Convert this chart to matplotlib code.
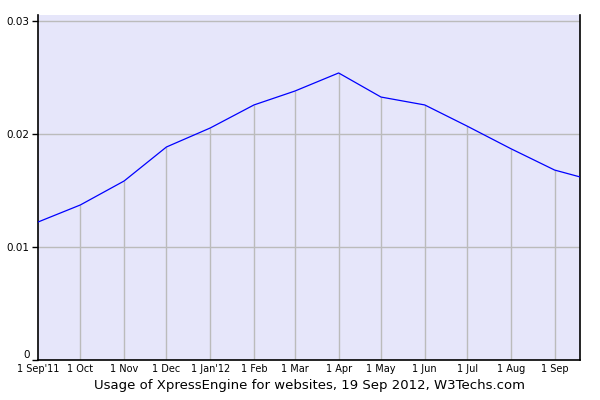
import numpy as np
import matplotlib
matplotlib.use("Agg")
import matplotlib.pyplot as plt
import matplotlib.dates as mdates
from datetime import date

dates = [date(2011, 9, 1), date(2011, 10, 1), date(2011, 11, 1), date(2011, 12, 1),
         date(2012, 1, 1), date(2012, 2, 1), date(2012, 3, 1), date(2012, 4, 1),
         date(2012, 5, 1), date(2012, 6, 1), date(2012, 7, 1), date(2012, 8, 1),
         date(2012, 9, 1), date(2012, 9, 19)]
usage = [0.01221, 0.01372, 0.01584, 0.01885, 0.02053, 0.02257, 0.0238, 0.0254,
         0.02327, 0.02257, 0.0207, 0.01870, 0.01681, 0.0162]
tick_labels = ["1 Sep'11", "1 Oct", "1 Nov", "1 Dec", "1 Jan'12", "1 Feb", "1 Mar",
               "1 Apr", "1 May", "1 Jun", "1 Jul", "1 Aug", "1 Sep"]
y_ticks = [0, 0.01, 0.02, 0.03]
y_labels = ["0", "0.01", "0.02", "0.03"]

x = mdates.date2num(dates)

fig = plt.figure(figsize=(6, 4), dpi=100)
ax = fig.add_axes([38 / 600, 40 / 400, 542 / 600, 345 / 400])
ax.set_facecolor('#E6E6FA')

ax.set_xlim(x[0], x[-1])
ax.set_ylim(0, 0.03053)

for yt in y_ticks[1:]:
    ax.axhline(yt, color='#BBBBBB', lw=1, zorder=1)
ax.vlines(x[1:-1], 0, usage[1:-1], color='#BBBBBB', lw=1, zorder=1)
ax.plot(x, usage, color='#0000FF', lw=0.9, zorder=3)

ax.set_xticks(x[:-1])
ax.set_xticklabels(tick_labels, fontsize=7)
ax.tick_params(axis='x', length=0, pad=3)
ax.set_yticks(y_ticks)
ax.set_yticklabels(y_labels, fontsize=7.5)
ax.tick_params(axis='y', length=4, width=1, direction='out', pad=2)
# zero label sits just above the axis line
ax.get_yticklabels()[0].set_va('bottom')

ax.spines['top'].set_visible(False)
for s in ['left', 'right', 'bottom']:
    ax.spines[s].set_color('black')
    ax.spines[s].set_linewidth(1.2)

fig.text(0.515, 0.037, "Usage of XpressEngine for websites, 19 Sep 2012, W3Techs.com",
         ha='center', va='center', fontsize=9.5)

fig.savefig("out.png", dpi=100)
